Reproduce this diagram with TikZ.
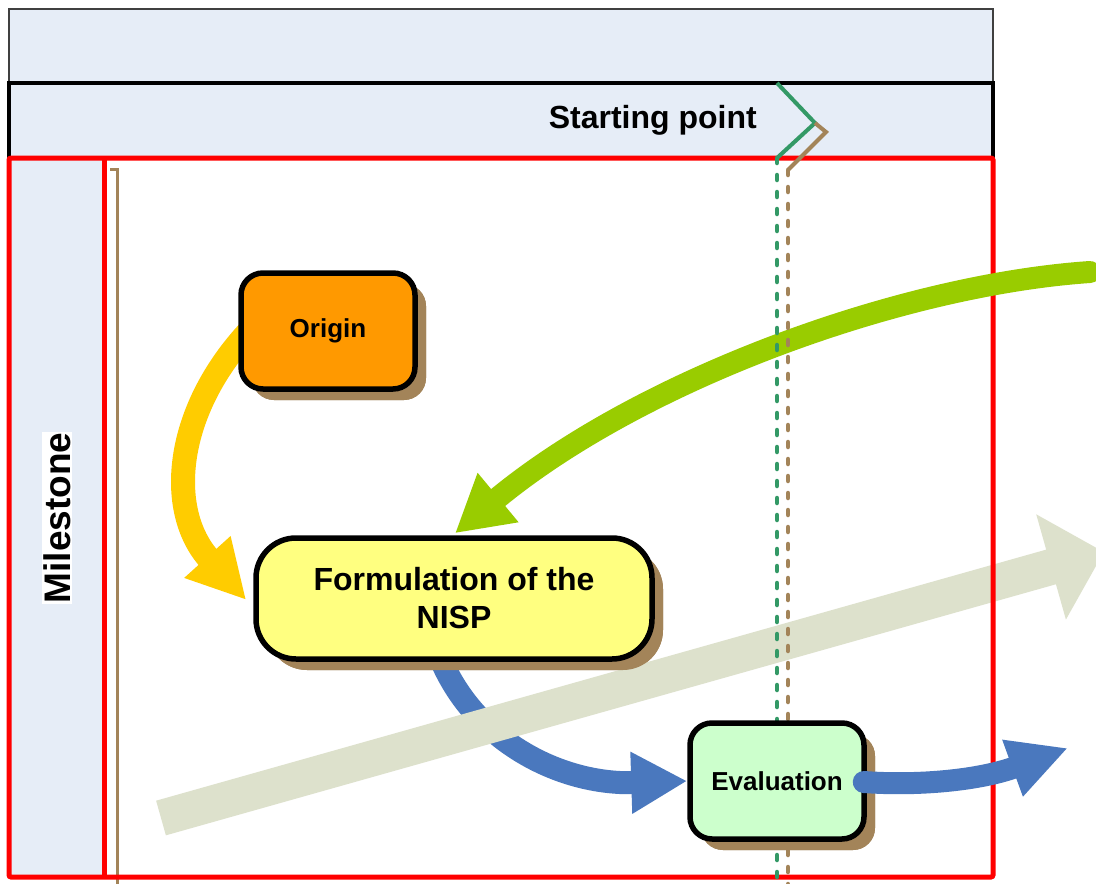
\documentclass[tikz,border=0pt]{standalone}
\usepackage{fontspec}
\setmainfont{Liberation Sans}
\usetikzlibrary{arrows.meta,calc,shadows}
\definecolor{hdrblue}{HTML}{E6EDF7}
\definecolor{framered}{HTML}{FF0000}
\definecolor{orangefill}{HTML}{FF9900}
\definecolor{yellowfill}{HTML}{FFFF80}
\definecolor{greenfill}{HTML}{CCFFCC}
\definecolor{shadowbrown}{HTML}{A38459}
\definecolor{arryellow}{HTML}{FFCC00}
\definecolor{arrgreen}{HTML}{99CC00}
\definecolor{arrblue}{HTML}{4A78BE}
\definecolor{arrgray}{HTML}{DDE1CC}
\definecolor{dotgreen}{HTML}{339966}
\begin{document}
\begin{tikzpicture}[x=1pt,y=-1pt,
  procbox/.style={draw=black, line width=5.5pt, rounded corners=22pt,
    minimum width=174pt, minimum height=116pt, inner sep=0pt,
    font=\fontsize{26}{30}\selectfont\bfseries,
    drop shadow={shadow xshift=11pt, shadow yshift=-11pt, fill=shadowbrown, opacity=1}},
  bigbox/.style={procbox, rounded corners=40pt, minimum width=396pt, minimum height=121pt,
    align=center, font=\fontsize{32}{38}\selectfont\bfseries},
  dotline/.style={line width=4.5pt, dash pattern=on 5pt off 12pt, line cap=round},
  chev/.style={line width=4pt},
  flow/.style={line width=23pt},
]
\useasboundingbox (0,0) rectangle (1096,884);
\clip (0,0) rectangle (1096,884);
\fill[white] (0,0) rectangle (1096,884);

% headers
\draw[fill=hdrblue, draw=black!75, line width=1.5pt] (9,9) rectangle (993,83);
\draw[fill=hdrblue, draw=black, line width=3.5pt] (9,83) rectangle (993,158);
\node[anchor=east, inner sep=0pt, font=\fontsize{32}{36}\selectfont\bfseries] (startpt) at (757,120) {Starting point};

% left column
\fill[hdrblue] (9,158) rectangle (104,877);
\draw[shadowbrown, line width=3pt] (110,169) -- (117,169) -- (117,884);

% named end points
\coordinate (grs) at (161,818);
\coordinate (gre) at (1104,552);
\coordinate (greenstart) at (1090,272);
\coordinate (blueend) at (1068,748);

% boxes (positions needed for connectors)
\path (328,331) node[procbox, draw=none, drop shadow={opacity=0}] (origin) {\phantom{Origin}};
\path (454,598.5) node[bigbox, draw=none, drop shadow={opacity=0}] (nisp) {\phantom{Formulation of the}\\\phantom{NISP}};
\path (777,781) node[procbox, draw=none, drop shadow={opacity=0}] (eval) {\phantom{Evaluation}};

% blue arrow NISP -> Evaluation
\draw[flow, arrblue, -{Triangle[length=56pt,width=58pt]}]
  ($(nisp.south)+(-17,-12)$) .. controls (470,740) and (560,785) .. (eval.west);

% gray arrow
\draw[line width=36pt, arrgray, -{Triangle[length=55pt,width=106pt]}] (grs) -- (gre);

% red frame
\draw[framered, line width=5pt, rounded corners=2pt] (9,158) rectangle (993,877);
\draw[framered, line width=5pt] (104,158) -- (104,877);

% milestone
\node[rotate=90, fill=white, inner sep=1pt, font=\fontsize{37}{40}\selectfont\bfseries] (milestone) at (57,518) {Milestone};

% green arrow
\draw[line width=22pt, arrgreen, line cap=round, -{Triangle[length=56pt,width=60pt]}]
  (greenstart) .. controls (900,285) and (640,380) .. ($(nisp.north)+(1,-2)$);

% yellow arrow Origin -> NISP
\draw[line width=24pt, arryellow, -{Triangle[length=58pt,width=58pt]}]
  ($(origin.west)+(12,-1)$) .. controls (175,410) and (165,510) .. ($(nisp.west)+(-7,1.5)$);

% chevrons and dotted lines
\coordinate (chevtop) at (777,83);
\coordinate (chevtip) at (815,123);
\coordinate (chevbot) at (777,158);
\coordinate (bchevtip) at (826,132);
\coordinate (bchevbot) at (788,170);
\draw[chev, dotgreen] (chevtop) -- (chevtip) -- (chevbot);
\draw[chev, shadowbrown] (chevtip) -- (bchevtip) -- (bchevbot);
\coordinate (gdend) at (777,884);
\coordinate (bdend) at (788,884);
\draw[dotline, dotgreen] (chevbot) -- (gdend);
\draw[dotline, shadowbrown] (bchevbot) -- (bdend);

% boxes
\node[procbox, fill=orangefill] (originbox) at (origin) {Origin};
\node[bigbox, fill=yellowfill] (nispbox) at (nisp) {Formulation of the\\NISP};
\node[procbox, fill=greenfill] (evalbox) at (eval) {Evaluation};

% blue arrow out of Evaluation
\draw[line width=22pt, arrblue, line cap=round, -{Triangle[length=59pt,width=56pt]}]
  ($(eval.east)+(-3,1)$) .. controls (920,786) and (980,780) .. (blueend);
\end{tikzpicture}
\end{document}
